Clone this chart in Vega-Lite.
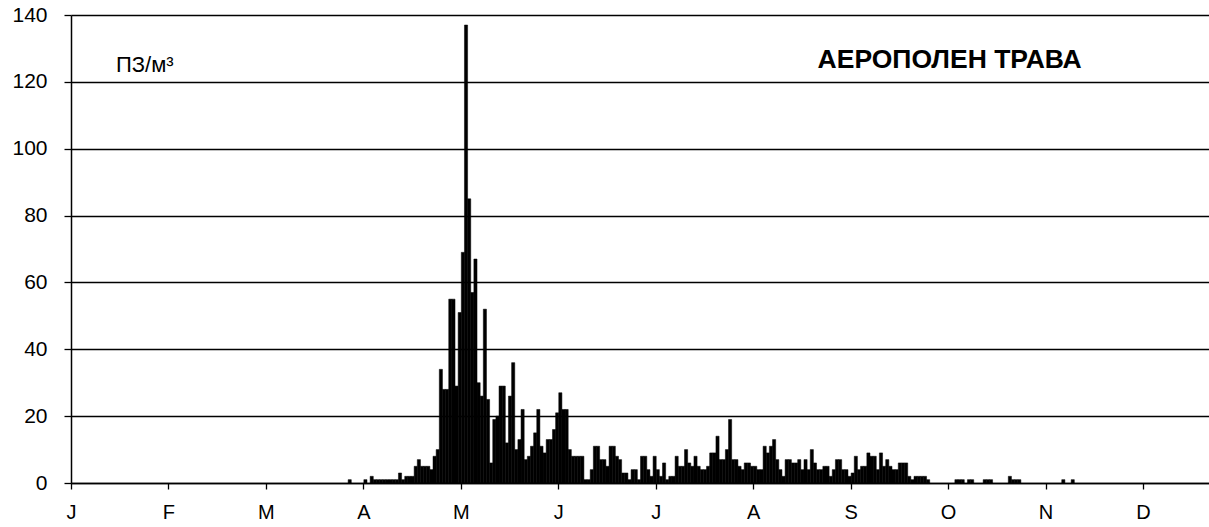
{
  "$schema": "https://vega.github.io/schema/vega-lite/v6.json",
  "width": 1138,
  "height": 468,
  "autosize": "none",
  "padding": {"left": 71, "top": 15, "right": 0, "bottom": 44},
  "background": "white",
  "config": {"view": {"stroke": null}, "font": "Liberation Sans"},
  "layer": [
    {
      "data": {"values": [
        {"day": 88, "v": 1}, {"day": 93, "v": 1}, {"day": 95, "v": 2}, {"day": 96, "v": 1}, {"day": 97, "v": 1},
        {"day": 98, "v": 1}, {"day": 99, "v": 1}, {"day": 100, "v": 1}, {"day": 101, "v": 1}, {"day": 102, "v": 1},
        {"day": 103, "v": 1}, {"day": 104, "v": 3}, {"day": 105, "v": 1}, {"day": 106, "v": 2}, {"day": 107, "v": 2},
        {"day": 108, "v": 2}, {"day": 109, "v": 5}, {"day": 110, "v": 7}, {"day": 111, "v": 5}, {"day": 112, "v": 5},
        {"day": 113, "v": 5}, {"day": 114, "v": 4}, {"day": 115, "v": 8}, {"day": 116, "v": 10}, {"day": 117, "v": 34},
        {"day": 118, "v": 28}, {"day": 119, "v": 28}, {"day": 120, "v": 55}, {"day": 121, "v": 55}, {"day": 122, "v": 29},
        {"day": 123, "v": 51}, {"day": 124, "v": 69}, {"day": 125, "v": 137}, {"day": 126, "v": 85}, {"day": 127, "v": 57},
        {"day": 128, "v": 67}, {"day": 129, "v": 30}, {"day": 130, "v": 26}, {"day": 131, "v": 52}, {"day": 132, "v": 25},
        {"day": 133, "v": 6}, {"day": 134, "v": 19}, {"day": 135, "v": 20}, {"day": 136, "v": 29}, {"day": 137, "v": 29},
        {"day": 138, "v": 12}, {"day": 139, "v": 26}, {"day": 140, "v": 36}, {"day": 141, "v": 10}, {"day": 142, "v": 13},
        {"day": 143, "v": 22}, {"day": 144, "v": 7}, {"day": 145, "v": 8}, {"day": 146, "v": 11}, {"day": 147, "v": 15},
        {"day": 148, "v": 22}, {"day": 149, "v": 11}, {"day": 150, "v": 9}, {"day": 151, "v": 13}, {"day": 152, "v": 13},
        {"day": 153, "v": 16}, {"day": 154, "v": 21}, {"day": 155, "v": 27}, {"day": 156, "v": 22}, {"day": 157, "v": 22},
        {"day": 158, "v": 10}, {"day": 159, "v": 8}, {"day": 160, "v": 8}, {"day": 161, "v": 8}, {"day": 162, "v": 8},
        {"day": 163, "v": 1}, {"day": 164, "v": 1}, {"day": 165, "v": 4}, {"day": 166, "v": 11}, {"day": 167, "v": 11},
        {"day": 168, "v": 7}, {"day": 169, "v": 7}, {"day": 170, "v": 5}, {"day": 171, "v": 11}, {"day": 172, "v": 11},
        {"day": 173, "v": 8}, {"day": 174, "v": 7}, {"day": 175, "v": 3}, {"day": 176, "v": 3}, {"day": 177, "v": 1},
        {"day": 178, "v": 4}, {"day": 179, "v": 4}, {"day": 180, "v": 1}, {"day": 181, "v": 8}, {"day": 182, "v": 8},
        {"day": 183, "v": 4}, {"day": 184, "v": 2}, {"day": 185, "v": 8}, {"day": 186, "v": 4}, {"day": 187, "v": 2},
        {"day": 188, "v": 6}, {"day": 189, "v": 1}, {"day": 190, "v": 2}, {"day": 191, "v": 2}, {"day": 192, "v": 8},
        {"day": 193, "v": 5}, {"day": 194, "v": 5}, {"day": 195, "v": 10}, {"day": 196, "v": 6}, {"day": 197, "v": 5},
        {"day": 198, "v": 8}, {"day": 199, "v": 5}, {"day": 200, "v": 4}, {"day": 201, "v": 4}, {"day": 202, "v": 5},
        {"day": 203, "v": 9}, {"day": 204, "v": 9}, {"day": 205, "v": 14}, {"day": 206, "v": 7}, {"day": 207, "v": 7},
        {"day": 208, "v": 10}, {"day": 209, "v": 19}, {"day": 210, "v": 7}, {"day": 211, "v": 7}, {"day": 212, "v": 5},
        {"day": 213, "v": 4}, {"day": 214, "v": 6}, {"day": 215, "v": 6}, {"day": 216, "v": 5}, {"day": 217, "v": 5},
        {"day": 218, "v": 4}, {"day": 219, "v": 4}, {"day": 220, "v": 11}, {"day": 221, "v": 9}, {"day": 222, "v": 11},
        {"day": 223, "v": 13}, {"day": 224, "v": 7}, {"day": 225, "v": 4}, {"day": 226, "v": 2}, {"day": 227, "v": 7},
        {"day": 228, "v": 7}, {"day": 229, "v": 6}, {"day": 230, "v": 6}, {"day": 231, "v": 7}, {"day": 232, "v": 4},
        {"day": 233, "v": 7}, {"day": 234, "v": 4}, {"day": 235, "v": 10}, {"day": 236, "v": 6}, {"day": 237, "v": 4},
        {"day": 238, "v": 4}, {"day": 239, "v": 5}, {"day": 240, "v": 5}, {"day": 241, "v": 2}, {"day": 242, "v": 4},
        {"day": 243, "v": 7}, {"day": 244, "v": 7}, {"day": 245, "v": 4}, {"day": 246, "v": 4}, {"day": 247, "v": 2},
        {"day": 248, "v": 3}, {"day": 249, "v": 8}, {"day": 250, "v": 4}, {"day": 251, "v": 5}, {"day": 252, "v": 5},
        {"day": 253, "v": 9}, {"day": 254, "v": 8}, {"day": 255, "v": 8}, {"day": 256, "v": 4}, {"day": 257, "v": 9},
        {"day": 258, "v": 5}, {"day": 259, "v": 7}, {"day": 260, "v": 5}, {"day": 261, "v": 4}, {"day": 262, "v": 4},
        {"day": 263, "v": 6}, {"day": 264, "v": 6}, {"day": 265, "v": 6}, {"day": 266, "v": 2}, {"day": 267, "v": 1},
        {"day": 268, "v": 2}, {"day": 269, "v": 2}, {"day": 270, "v": 2}, {"day": 271, "v": 2}, {"day": 272, "v": 1},
        {"day": 281, "v": 1}, {"day": 282, "v": 1}, {"day": 283, "v": 1}, {"day": 285, "v": 1}, {"day": 286, "v": 1},
        {"day": 290, "v": 1}, {"day": 291, "v": 1}, {"day": 292, "v": 1}, {"day": 298, "v": 2}, {"day": 299, "v": 1},
        {"day": 300, "v": 1}, {"day": 301, "v": 1}, {"day": 315, "v": 1}, {"day": 318, "v": 1}
      ]},
      "mark": {"type": "bar", "color": "black", "binSpacing": 0, "stroke": "black", "strokeWidth": 0.5},
      "encoding": {
        "x": {
          "field": "day", "type": "quantitative",
          "bin": {"binned": true, "step": 1},
          "scale": {"domain": [0, 362], "nice": false, "zero": false},
          "axis": {
            "values": [0, 31, 62, 93, 124, 155, 186, 217, 248, 279, 310, 341],
            "labelExpr": "['J','F','M','A','M','J','J','A','S','O','N','D'][round(datum.value / 31)]",
            "grid": false, "title": null, "labelAngle": 0, "labelFlush": false, "labelOverlap": false,
            "domainColor": "black", "domainWidth": 1.5, "tickColor": "black", "tickWidth": 1.3, "tickSize": 6,
            "labelFontSize": 20, "labelColor": "black", "labelPadding": 13, "labelFont": "Liberation Sans"
          }
        },
        "y": {
          "field": "v", "type": "quantitative",
          "scale": {"domain": [0, 140], "nice": false},
          "axis": {
            "values": [0, 20, 40, 60, 80, 100, 120, 140],
            "grid": true, "gridColor": "black", "gridWidth": 1.3, "gridOpacity": 1,
            "title": null, "domainColor": "black", "domainWidth": 1.5,
            "tickColor": "black", "tickWidth": 1.3, "tickSize": 7,
            "labelFontSize": 21, "labelColor": "black", "labelPadding": 17, "labelFont": "Liberation Sans"
          }
        }
      }
    },
    {
      "data": {"values": [{"label": "ПЗ/м³"}]},
      "mark": {"type": "text", "align": "left", "baseline": "middle", "fontSize": 22, "color": "black", "font": "Liberation Sans"},
      "encoding": {"text": {"field": "label"}, "x": {"datum": 14.3, "type": "quantitative"}, "y": {"datum": 125, "type": "quantitative"}}
    },
    {
      "data": {"values": [{"label": "АЕРОПОЛЕН ТРАВА"}]},
      "mark": {"type": "text", "align": "left", "baseline": "middle", "fontSize": 26.5, "fontWeight": "bold", "color": "black", "font": "Liberation Sans"},
      "encoding": {"text": {"field": "label"}, "x": {"datum": 237.5, "type": "quantitative"}, "y": {"datum": 126.4, "type": "quantitative"}}
    }
  ]
}
